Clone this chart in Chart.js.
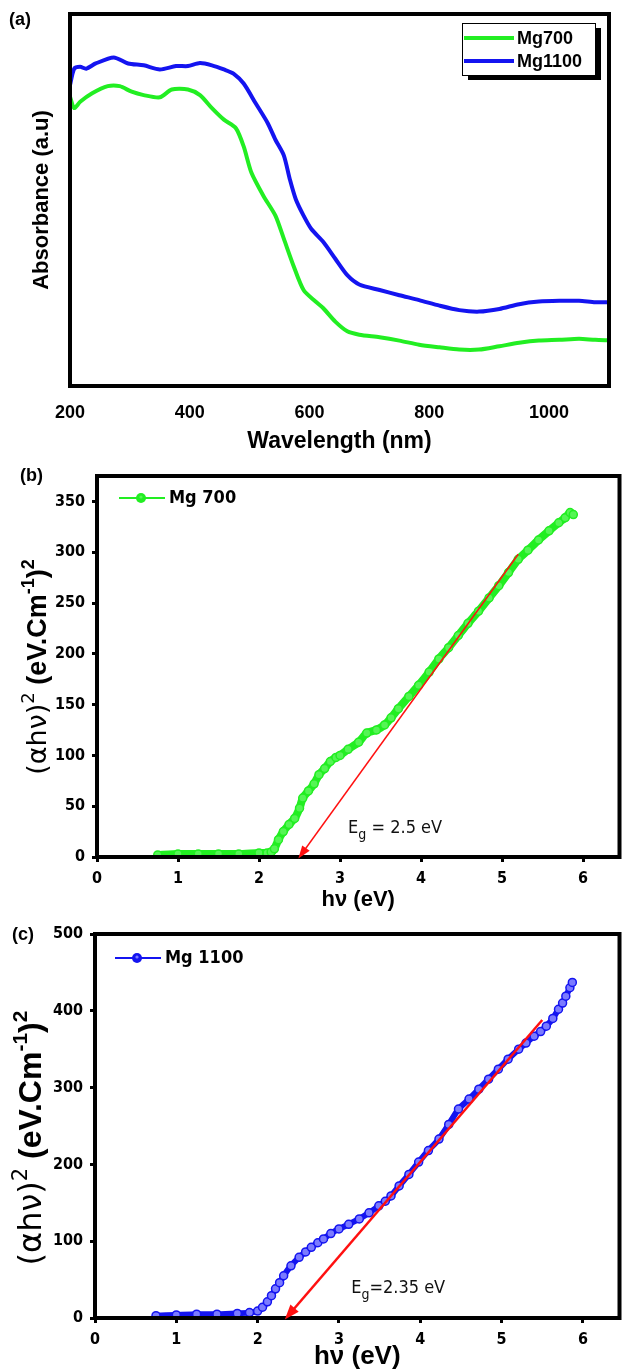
<!DOCTYPE html>
<html>
<head>
<meta charset="utf-8">
<title>Mg700 / Mg1100 optical absorption</title>
<script src="https://cdn.jsdelivr.net/npm/chart.js@4.4.1/dist/chart.umd.min.js"></script>
<style>
  body { margin: 0; background: #fff; width: 625px; height: 1370px; overflow: hidden; position: relative; }
  .panel { position: absolute; left: 0; width: 625px; }
</style>
</head>
<body>
<div class="panel" style="top:0;height:455px"><canvas id="chartA"></canvas></div>
<div class="panel" style="top:455px;height:470px"><canvas id="chartB"></canvas></div>
<div class="panel" style="top:912px;height:458px"><canvas id="chartC"></canvas></div>
<script>
// ---- (a) absorbance spectra ----
const wlMg700 = [200, 207, 217, 237, 263, 283, 303, 323, 350, 370, 397, 417, 437, 457, 477, 490, 503, 523, 543, 557, 573, 590, 610, 623, 643, 663, 683, 717, 750, 783, 817, 850, 883, 917, 950, 983, 1017, 1050, 1077, 1100];
const absMg700 = [77.8, 74.7, 76.4, 78.7, 80.6, 80.6, 79.1, 78.2, 77.6, 79.7, 79.7, 78.2, 74.7, 71.6, 69.3, 64.4, 57.3, 51.1, 45.8, 39.6, 32.4, 25.8, 22.7, 20.9, 17.3, 14.7, 13.8, 13.1, 12.2, 11.1, 10.4, 9.8, 9.8, 10.7, 11.6, 12.2, 12.4, 12.7, 12.4, 12.3];
const wlMg1100 = [200, 207, 217, 227, 243, 273, 297, 323, 350, 377, 397, 417, 437, 457, 473, 490, 510, 530, 543, 557, 567, 577, 590, 603, 623, 643, 663, 683, 717, 750, 783, 817, 850, 883, 917, 950, 983, 1017, 1050, 1077, 1100];
const absMg1100 = [80.9, 85.3, 85.8, 85.3, 86.7, 88.3, 86.7, 86.2, 85.1, 86.0, 86.0, 86.8, 86.2, 85.1, 84.0, 81.3, 76.0, 70.7, 66.2, 62.0, 55.6, 50.2, 45.8, 42.2, 38.7, 34.2, 29.8, 27.3, 25.8, 24.4, 23.1, 21.6, 20.4, 20.0, 20.7, 22.0, 22.7, 22.9, 22.9, 22.5, 22.5];
const wlTicks = [200, 400, 600, 800, 1000];

// ---- (b) Tauc plot Mg700 ----
const hvMg700 = [0.75, 1.0, 1.25, 1.5, 1.75, 2.0, 2.1, 2.15, 2.19, 2.24, 2.3, 2.37, 2.44, 2.5, 2.54, 2.61, 2.68, 2.74, 2.81, 2.88, 2.95, 3.0, 3.1, 3.23, 3.33, 3.45, 3.55, 3.63, 3.72, 3.85, 3.97, 4.1, 4.22, 4.34, 4.46, 4.58, 4.71, 4.84, 4.96, 5.08, 5.2, 5.32, 5.45, 5.58, 5.7, 5.78, 5.84, 5.88];
const taucMg700 = [2, 3, 3, 3, 3, 4, 4, 5, 8, 17, 25, 32, 38, 48, 58, 65, 72, 81, 87, 94, 98, 100, 106, 113, 122, 125, 130, 137, 146, 158, 169, 182, 195, 206, 218, 230, 242, 255, 267, 280, 293, 302, 312, 321, 329, 334, 339, 337];
const egMg700 = 2.5;
const fitTopMg700 = { x: 5.2, y: 298 };

// ---- (c) Tauc plot Mg1100 ----
const hvMg1100 = [0.75, 1.0, 1.25, 1.5, 1.75, 1.9, 2.0, 2.06, 2.12, 2.17, 2.22, 2.27, 2.32, 2.41, 2.51, 2.59, 2.66, 2.74, 2.81, 2.9, 3.0, 3.12, 3.25, 3.37, 3.49, 3.57, 3.64, 3.74, 3.86, 3.98, 4.1, 4.23, 4.35, 4.47, 4.6, 4.72, 4.84, 4.96, 5.08, 5.21, 5.3, 5.4, 5.48, 5.55, 5.63, 5.7, 5.75, 5.79, 5.84, 5.87];
const taucMg1100 = [3, 4, 5, 5, 6, 7, 9, 14, 21, 29, 38, 46, 55, 68, 79, 86, 92, 98, 103, 110, 116, 122, 129, 137, 146, 152, 159, 172, 187, 203, 218, 233, 252, 272, 285, 298, 311, 324, 337, 350, 358, 367, 373, 380, 390, 402, 410, 419, 430, 437];
const egMg1100 = 2.35;
const fitTopMg1100 = { x: 5.5, y: 388 };

const hvTicks = [0, 1, 2, 3, 4, 5, 6];
const taucTicksB = [0, 50, 100, 150, 200, 250, 300, 350];
const taucTicksC = [0, 100, 200, 300, 400, 500];

const GREEN = '#22ee22';
const BLUE = '#1414f0';
const RED = '#ff1010';
const ARIAL = '"Liberation Sans", Arial, sans-serif';
const NARROW = '"Liberation Sans Narrow", "DejaVu Sans Condensed", "Liberation Sans", sans-serif';

Chart.defaults.font.family = ARIAL;
Chart.defaults.color = '#000';
Chart.defaults.animation = false;

const pairs = (xs, ys) => xs.map((x, i) => ({ x, y: ys[i] }));
const fixedTicks = list => scale => { scale.ticks = list.map(v => ({ value: v })); };
const plain = v => String(v);

// thick black box around the plotting area
const framePlugin = {
  id: 'frame',
  afterDatasetsDraw(chart, args, o) {
    const { ctx, chartArea: a } = chart;
    ctx.save();
    ctx.strokeStyle = '#000';
    ctx.lineWidth = o.width || 4;
    ctx.strokeRect(a.left, a.top, a.right - a.left, a.bottom - a.top);
    ctx.restore();
  }
};

// "(a)", "(b)", "(c)"
const tagPlugin = {
  id: 'tag',
  afterDraw(chart, args, o) {
    if (!o.text) return;
    const ctx = chart.ctx;
    ctx.save();
    ctx.font = 'bold ' + o.size + 'px ' + ARIAL;
    ctx.textBaseline = 'middle';
    ctx.fillText(o.text, o.x, o.y);
    ctx.restore();
  }
};

// boxed legend with drop shadow, lines only
const boxLegendPlugin = {
  id: 'boxLegend',
  afterDraw(chart, args, o) {
    if (!o.box) return;
    const ctx = chart.ctx;
    const b = o.box;
    ctx.save();
    ctx.fillStyle = '#000';
    ctx.fillRect(b.x + 6, b.y + 5, b.w, b.h);
    ctx.fillStyle = '#fff';
    ctx.fillRect(b.x, b.y, b.w, b.h);
    ctx.strokeStyle = '#000';
    ctx.lineWidth = 1;
    ctx.strokeRect(b.x + 0.5, b.y + 0.5, b.w, b.h);
    ctx.font = 'bold 18px ' + ARIAL;
    ctx.textBaseline = 'middle';
    chart.data.datasets.forEach((ds, i) => {
      const y = b.y + 15 + i * 23;
      ctx.strokeStyle = ds.borderColor;
      ctx.lineWidth = 4;
      ctx.beginPath();
      ctx.moveTo(b.x + 2, y);
      ctx.lineTo(b.x + 52, y);
      ctx.stroke();
      ctx.fillStyle = '#000';
      ctx.fillText(ds.label, b.x + 55, y + 1);
    });
    ctx.restore();
  }
};

// legend entry of a line-and-symbol series
const symLegendPlugin = {
  id: 'symLegend',
  afterDraw(chart, args, o) {
    if (!o.at) return;
    const ds = chart.data.datasets[0];
    const ctx = chart.ctx;
    const { x, y } = o.at;
    ctx.save();
    ctx.strokeStyle = ds.borderColor;
    ctx.lineWidth = 2;
    ctx.beginPath();
    ctx.moveTo(x, y);
    ctx.lineTo(x + 46, y);
    ctx.stroke();
    ctx.fillStyle = ds.borderColor;
    ctx.beginPath();
    ctx.arc(x + 22, y, 5, 0, Math.PI * 2);
    ctx.fill();
    ctx.fillStyle = ds.pointBackgroundColor;
    ctx.beginPath();
    ctx.arc(x + 22, y - 1, 1.6, 0, Math.PI * 2);
    ctx.fill();
    ctx.fillStyle = '#000';
    ctx.font = 'bold 18px ' + NARROW;
    ctx.textBaseline = 'middle';
    ctx.fillText(ds.label, x + 50, y);
    ctx.restore();
  }
};

// arrow head at the x-intercept of the linear fit, and the band gap note
const gapPlugin = {
  id: 'gap',
  afterDatasetsDraw(chart, args, o) {
    if (!o.note) return;
    const { ctx, scales: { x: sx, y: sy } } = chart;
    const fit = chart.data.datasets[1].data;
    const tx = sx.getPixelForValue(fit[0].x), ty = sy.getPixelForValue(fit[0].y);
    const fx = sx.getPixelForValue(fit[1].x), fy = sy.getPixelForValue(fit[1].y);
    const ang = Math.atan2(ty - fy, tx - fx);
    ctx.save();
    ctx.fillStyle = RED;
    ctx.translate(tx, ty);
    ctx.rotate(ang);
    ctx.beginPath();
    ctx.moveTo(2, 0);
    ctx.lineTo(-o.head, -o.head * 0.42);
    ctx.lineTo(-o.head, o.head * 0.42);
    ctx.closePath();
    ctx.fill();
    ctx.restore();

    ctx.save();
    ctx.fillStyle = '#111';
    ctx.textBaseline = 'middle';
    let px = sx.getPixelForValue(o.note.x);
    const py = sy.getPixelForValue(o.note.y);
    ctx.font = o.size + 'px ' + NARROW;
    ctx.fillText('E', px, py);
    px += ctx.measureText('E').width;
    ctx.font = Math.round(o.size * 0.75) + 'px ' + NARROW;
    ctx.fillText('g', px, py + o.size * 0.38);
    px += ctx.measureText('g').width;
    ctx.font = o.size + 'px ' + NARROW;
    ctx.fillText(o.note.text, px, py);
    ctx.restore();
  }
};

// rotated y title with superscripts
const richTitlePlugin = {
  id: 'richTitle',
  afterDraw(chart, args, o) {
    if (!o.parts) return;
    const ctx = chart.ctx;
    ctx.save();
    ctx.translate(o.x, o.y);
    ctx.rotate(-Math.PI / 2);
    ctx.fillStyle = '#000';
    ctx.textBaseline = 'alphabetic';
    let w = 0;
    const widths = o.parts.map(p => { ctx.font = p.font; const m = ctx.measureText(p.text).width; w += m; return m; });
    let x = -w / 2;
    o.parts.forEach((p, i) => {
      ctx.font = p.font;
      ctx.fillText(p.text, x, o.base + (p.dy || 0));
      x += widths[i];
    });
    ctx.restore();
  }
};

const plugins = [framePlugin, tagPlugin, boxLegendPlugin, symLegendPlugin, gapPlugin, richTitlePlugin];

function taucTitle(size) {
  const sup = Math.round(size * 0.66);
  return [
    { text: '(\u03b1h\u03bd)', font: size + 'px "DejaVu Sans", sans-serif' },
    { text: '2', font: sup + 'px "DejaVu Sans", sans-serif', dy: -size * 0.45 },
    { text: ' (eV.Cm', font: 'bold ' + size + 'px ' + ARIAL },
    { text: '-1', font: 'bold ' + sup + 'px ' + ARIAL, dy: -size * 0.45 },
    { text: ')', font: 'bold ' + size + 'px ' + ARIAL },
    { text: '2', font: 'bold ' + sup + 'px ' + ARIAL, dy: -size * 0.45 }
  ];
}

// ---------- (a) ----------
new Chart(document.getElementById('chartA'), {
  type: 'line',
  data: {
    datasets: [
      { label: 'Mg700', data: pairs(wlMg700, absMg700), borderColor: GREEN, borderWidth: 4, pointRadius: 0, tension: 0.25 },
      { label: 'Mg1100', data: pairs(wlMg1100, absMg1100), borderColor: BLUE, borderWidth: 4, pointRadius: 0, tension: 0.25 }
    ]
  },
  options: {
    responsive: true,
    maintainAspectRatio: false,
    devicePixelRatio: 1,
    layout: { padding: { left: 0, top: 14, right: 16, bottom: 0 } },
    plugins: {
      legend: { display: false },
      tooltip: { enabled: false },
      frame: { width: 4 },
      tag: { text: '(a)', x: 9, y: 20, size: 18 },
      boxLegend: { box: { x: 462, y: 23, w: 133, h: 52 } }
    },
    scales: {
      x: {
        type: 'linear', min: 200, max: 1100,
        afterBuildTicks: fixedTicks(wlTicks),
        afterFit: s => { s.height = 69; },
        grid: { display: false, drawTicks: false },
        border: { display: false },
        ticks: { padding: 16, callback: plain, font: { size: 18, weight: 'bold' } },
        title: { display: true, text: 'Wavelength (nm)', font: { size: 23, weight: 'bold', lineHeight: 1.2 }, padding: { top: 0, bottom: 0 } }
      },
      y: {
        type: 'linear', min: 0, max: 100,
        afterFit: s => { s.width = 70; },
        grid: { display: false, drawTicks: false },
        border: { display: false },
        ticks: { display: false },
        title: { display: true, text: 'Absorbance (a.u)', font: { size: 22, weight: 'bold', lineHeight: 1.2 }, padding: { top: 29, bottom: 0 } }
      }
    }
  },
  plugins
});

// shared axis styling for the Tauc plots
function taucScales(yMax, yTicks, yWidth, xHeight, tickSize, titleSize, titlePad) {
  return {
    x: {
      type: 'linear', min: 0, max: 6.45,
      afterBuildTicks: fixedTicks(hvTicks),
      afterFit: s => { s.height = xHeight; },
      grid: { display: true, drawOnChartArea: false, drawTicks: true, tickLength: 5, tickWidth: 3, tickColor: '#000' },
      border: { display: false },
      ticks: { padding: 7, callback: plain, font: { family: NARROW, size: tickSize, weight: 'bold' } },
      title: { display: true, text: 'h\u03bd (eV)', font: { size: titleSize, weight: 'bold', lineHeight: 1 }, padding: { top: 0, bottom: titlePad } }
    },
    y: {
      type: 'linear', min: 0, max: yMax,
      afterBuildTicks: fixedTicks(yTicks),
      afterFit: s => { s.width = yWidth; },
      grid: { display: true, drawOnChartArea: false, drawTicks: true, tickLength: 5, tickWidth: 3, tickColor: '#000' },
      border: { display: false },
      ticks: { padding: 7, callback: plain, font: { family: NARROW, size: tickSize, weight: 'bold' } }
    }
  };
}

// ---------- (b) ----------
new Chart(document.getElementById('chartB'), {
  type: 'line',
  data: {
    datasets: [
      { label: 'Mg 700', data: pairs(hvMg700, taucMg700), borderColor: GREEN, borderWidth: 8, pointRadius: 4, pointBorderWidth: 1.5, pointBorderColor: GREEN, pointBackgroundColor: '#55f555', tension: 0.2 },
      // linear fit drawn over the data
      { label: 'fit', order: -1, data: [{ x: egMg700, y: 0 }, fitTopMg700], borderColor: RED, borderWidth: 1.5, pointRadius: 0, tension: 0 }
    ]
  },
  options: {
    responsive: true,
    maintainAspectRatio: false,
    devicePixelRatio: 1,
    layout: { padding: { left: 0, top: 21, right: 4, bottom: 0 } },
    plugins: {
      legend: { display: false },
      tooltip: { enabled: false },
      frame: { width: 4 },
      tag: { text: '(b)', x: 20, y: 21, size: 18 },
      symLegend: { at: { x: 119, y: 43 } },
      gap: { head: 11, size: 18, note: { x: 3.1, y: 28, text: ' = 2.5 eV' } },
      richTitle: { x: 37, y: 212, base: 9, parts: taucTitle(27) }
    },
    scales: taucScales(375, taucTicksB, 97, 68, 16, 22, 14)
  },
  plugins
});

// ---------- (c) ----------
new Chart(document.getElementById('chartC'), {
  type: 'line',
  data: {
    datasets: [
      { label: 'Mg 1100', data: pairs(hvMg1100, taucMg1100), borderColor: BLUE, borderWidth: 6, pointRadius: 4, pointBorderWidth: 1.5, pointBorderColor: BLUE, pointBackgroundColor: '#7b7bff', tension: 0.2 },
      { label: 'fit', order: -1, data: [{ x: egMg1100, y: 0 }, fitTopMg1100], borderColor: RED, borderWidth: 2.5, pointRadius: 0, tension: 0 }
    ]
  },
  options: {
    responsive: true,
    maintainAspectRatio: false,
    devicePixelRatio: 1,
    layout: { padding: { left: 0, top: 22, right: 4, bottom: 0 } },
    plugins: {
      legend: { display: false },
      tooltip: { enabled: false },
      frame: { width: 4 },
      tag: { text: '(c)', x: 12, y: 23, size: 18 },
      symLegend: { at: { x: 115, y: 46 } },
      gap: { head: 13, size: 18, note: { x: 3.15, y: 39, text: '=2.35 eV' } },
      richTitle: { x: 30, y: 226, base: 11, parts: taucTitle(32) }
    },
    scales: taucScales(500, taucTicksC, 95, 52, 16, 26, 0)
  },
  plugins
});
</script>
</body>
</html>
